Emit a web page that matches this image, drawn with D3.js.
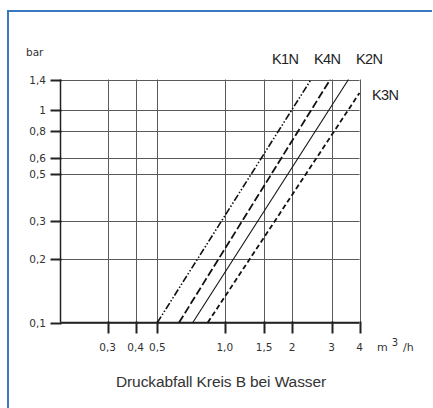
<!DOCTYPE html>
<html>
<head>
<meta charset="utf-8">
<script src="https://cdn.jsdelivr.net/npm/d3@7"></script>
<style>
  html, body { margin: 0; padding: 0; background: #fff; }
  svg { display: block; }
</style>
</head>
<body>
<svg id="chart" width="433" height="408"></svg>
<script>
// ---- data ----
const xTicks = [0.3, 0.4, 0.5, 1.0, 1.5, 2, 3, 4];
const xTickLabels = ["0,3", "0,4", "0,5", "1,0", "1,5", "2", "3", "4"];
const yTicks = [0.1, 0.2, 0.3, 0.5, 0.6, 0.8, 1, 1.4];
const yTickLabels = ["0,1", "0,2", "0,3", "0,5", "0,6", "0,8", "1", "1,4"];
const seriesNames = ["K1N", "K4N", "K2N", "K3N"];
const seriesFlow = [[0.50, 2.43], [0.625, 2.96], [0.72, 3.57], [0.84, 4.0]];
const seriesDrop = [[0.1, 1.4], [0.1, 1.4], [0.1, 1.4], [0.1, 1.21]];
const xUnit = "m";
const yUnit = "bar";
const title = "Druckabfall Kreis B bei Wasser";

// ---- layout ----
const svg = d3.select("#chart");
const plotLeft = 60.5, plotRight = 359.5, plotTop = 79.5, plotBottom = 322.5;

const x = d3.scaleLog().domain([0.3, 4]).range([107.7, 359.5]);
const y = d3.scaleLog().domain([0.1, 1.4]).range([plotBottom, plotTop]);

// frame (blue border)
svg.append("path")
  .attr("d", `M8,408 L8,11 L432,11`)
  .attr("fill", "none").attr("stroke", "#3a78c0").attr("stroke-width", 2);

const gridColor = "#5a5a5a";
// horizontal grid lines
svg.append("g").selectAll("line").data(yTicks).join("line")
  .attr("x1", plotLeft).attr("x2", plotRight)
  .attr("y1", d => Math.round(y(d)) + 0.5).attr("y2", d => Math.round(y(d)) + 0.5)
  .attr("stroke", gridColor).attr("stroke-width", 1);
// vertical grid lines
svg.append("g").selectAll("line").data(xTicks).join("line")
  .attr("x1", d => Math.round(x(d)) + 0.5).attr("x2", d => Math.round(x(d)) + 0.5)
  .attr("y1", plotTop).attr("y2", plotBottom)
  .attr("stroke", gridColor).attr("stroke-width", 1);
// axes lines
svg.append("line").attr("x1", plotLeft).attr("x2", plotLeft)
  .attr("y1", plotTop).attr("y2", plotBottom).attr("stroke", "#222").attr("stroke-width", 1.5);
svg.append("line").attr("x1", plotLeft).attr("x2", plotRight)
  .attr("y1", plotBottom).attr("y2", plotBottom).attr("stroke", "#222").attr("stroke-width", 1.5);

// y ticks (left, thick)
svg.append("g").selectAll("line").data(yTicks).join("line")
  .attr("x1", plotLeft - 10).attr("x2", plotLeft + 1)
  .attr("y1", d => Math.round(y(d)) + 0.5).attr("y2", d => Math.round(y(d)) + 0.5)
  .attr("stroke", "#222").attr("stroke-width", 2);
// x ticks (below, thick)
svg.append("g").selectAll("line").data(xTicks).join("line")
  .attr("x1", d => Math.round(x(d)) + 0.5).attr("x2", d => Math.round(x(d)) + 0.5)
  .attr("y1", plotBottom - 1).attr("y2", plotBottom + 11)
  .attr("stroke", "#222").attr("stroke-width", 2);

const tickFont = "'DejaVu Sans', sans-serif";
// y tick labels
svg.append("g").selectAll("text").data(yTicks).join("text")
  .attr("x", 46).attr("y", d => y(d) + 4)
  .attr("text-anchor", "end")
  .attr("font-family", tickFont).attr("font-size", 10.5).attr("fill", "#333")
  .text((d, i) => yTickLabels[i]);
// x tick labels
svg.append("g").selectAll("text").data(xTicks).join("text")
  .attr("x", d => x(d)).attr("y", 351)
  .attr("text-anchor", "middle")
  .attr("font-family", tickFont).attr("font-size", 10.5).attr("fill", "#333")
  .text((d, i) => xTickLabels[i]);

// units
svg.append("text").attr("x", 26).attr("y", 56)
  .attr("font-family", tickFont).attr("font-size", 10.5).attr("fill", "#333").text(yUnit);
const u = svg.append("text").attr("x", 377).attr("y", 351)
  .attr("font-family", tickFont).attr("font-size", 11).attr("fill", "#333");
u.append("tspan").text(xUnit);
u.append("tspan").attr("dx", 4).attr("dy", -5).attr("font-size", 10).text("3");
u.append("tspan").attr("dx", 5).attr("dy", 5).text("/h");

// series lines
const dashes = ["7,2,1.5,2,1.5,2", "8,3", null, "5,3"];
const widths = [1.6, 1.8, 1.1, 1.8];
const line = d3.line().x(d => x(d[0])).y(d => y(d[1]));
seriesNames.forEach((name, i) => {
  const pts = seriesFlow[i].map((q, j) => [q, seriesDrop[i][j]]);
  svg.append("path").datum(pts)
    .attr("d", line)
    .attr("fill", "none").attr("stroke", "#111")
    .attr("stroke-width", widths[i])
    .attr("stroke-dasharray", dashes[i]);
});

// series labels
const labelFont = "'Liberation Sans', Arial, sans-serif";
const labelPos = [[272, 64], [314, 64], [356, 64], [372, 100]];
svg.append("g").selectAll("text").data(seriesNames).join("text")
  .attr("x", (d, i) => labelPos[i][0]).attr("y", (d, i) => labelPos[i][1])
  .attr("font-family", labelFont).attr("font-size", 14.5).attr("letter-spacing", -0.6)
  .attr("fill", "#222")
  .text(d => d);

// title
svg.append("text").attr("x", 221).attr("y", 387)
  .attr("text-anchor", "middle")
  .attr("font-family", labelFont).attr("font-size", 15.5).attr("letter-spacing", -0.1)
  .attr("fill", "#333").text(title);
</script>
</body>
</html>
